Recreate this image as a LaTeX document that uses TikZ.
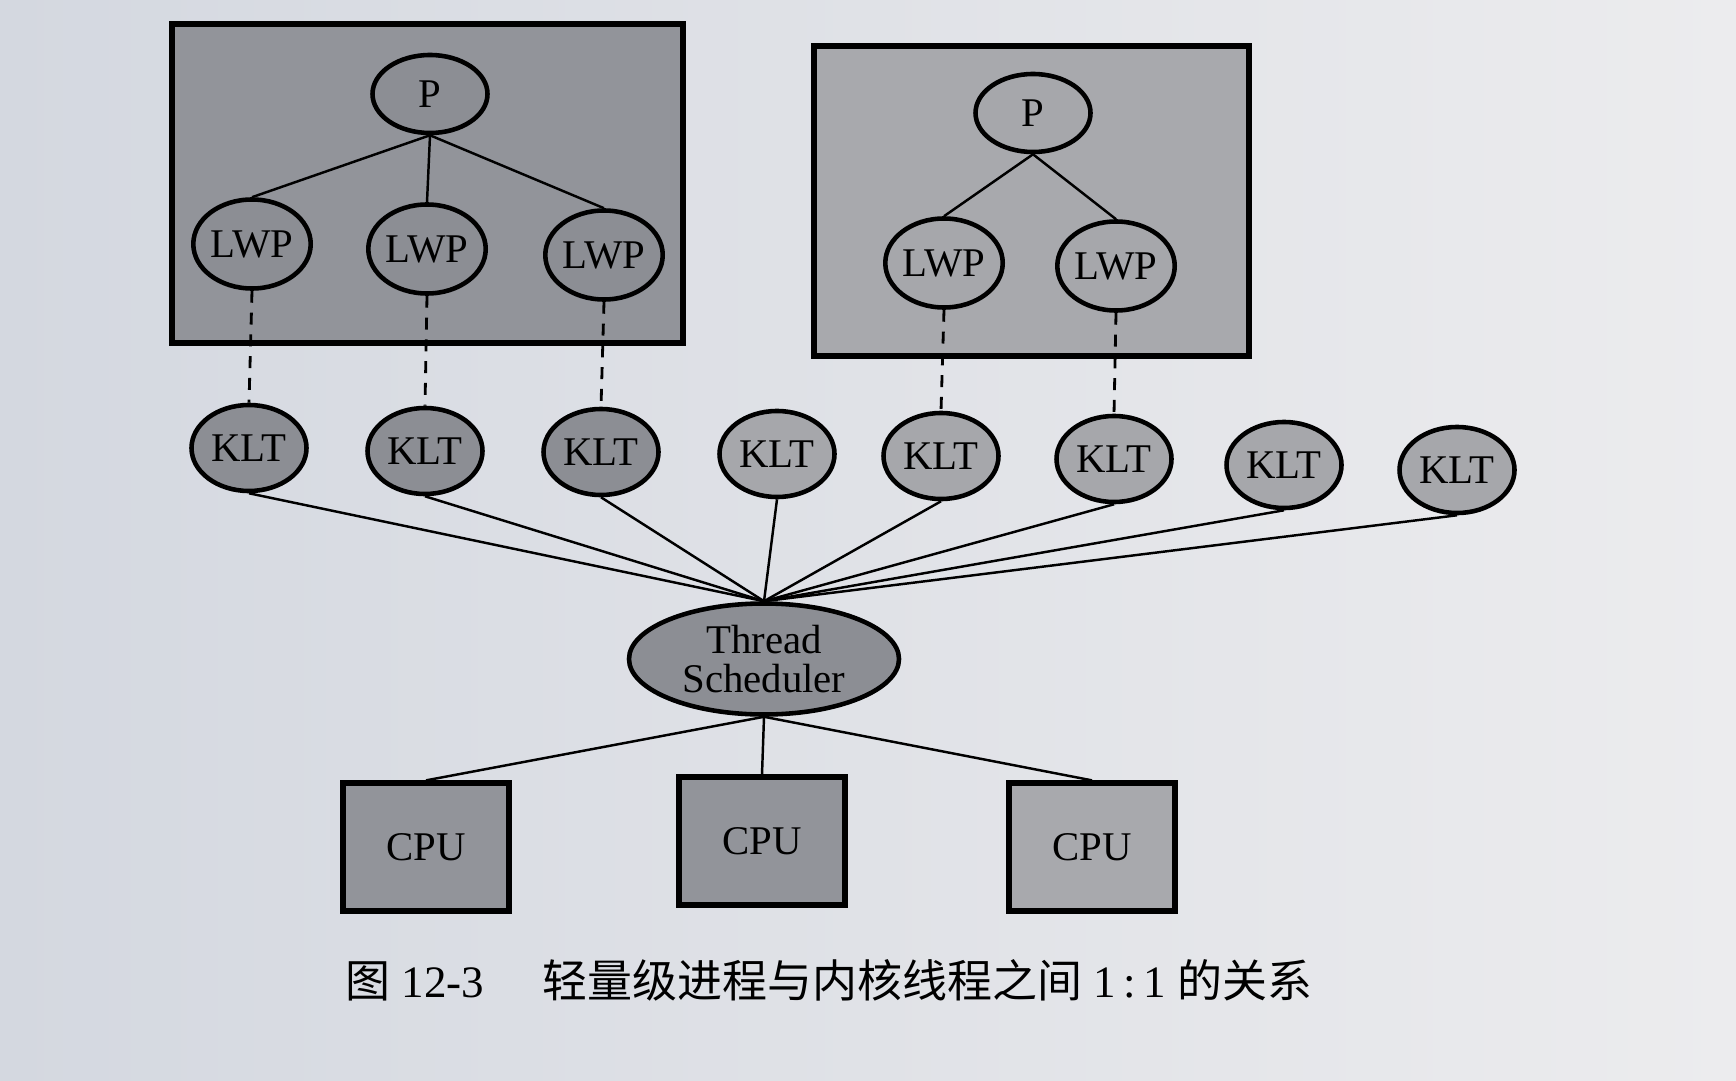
\documentclass[tikz,border=0pt]{standalone}
\usepackage{fontspec}
\setmainfont{Liberation Serif}
\newfontfamily\cjk{Noto Sans CJK SC}
\usetikzlibrary{shapes.geometric}
\definecolor{papier}{RGB}{212,216,224}
\definecolor{papierclair}{RGB}{236,236,238}
\definecolor{boitesombre}{RGB}{146,148,154}
\definecolor{boiteclaire}{RGB}{168,169,173}
\definecolor{bullesombre}{RGB}{140,142,148}
\definecolor{bulleclaire}{RGB}{166,167,171}
\begin{document}
\begin{tikzpicture}[
    font=\fontsize{11.6}{11.2}\selectfont,
    bulle/.style={ellipse, draw=black, line width=1.3pt, inner sep=0pt,
        minimum width=1.15cm, minimum height=0.86cm},
    processus/.style={bulle, minimum height=0.78cm},
    ordonnanceur/.style={bulle, minimum width=2.7cm, minimum height=1.11cm, align=center},
    cpu/.style={draw=black, line width=1.5pt, inner sep=0pt,
        minimum width=1.66cm, minimum height=1.28cm},
    cadre/.style={draw=black, line width=1.6pt},
    lien/.style={line width=0.7pt},
    pointille/.style={line width=0.8pt, dash pattern=on 3.4pt off 2.8pt}
]
        % fond de la page
        \shade[left color=papier, right color=papierclair] (0,0) rectangle (17.36,-10.80);
        \useasboundingbox (0,0) rectangle (17.36,-10.80);

        % les deux processus
        \draw[cadre, fill=boitesombre] (1.72,-0.24) rectangle (6.83,-3.43);
        \draw[cadre, fill=boiteclaire] (8.14,-0.46) rectangle (12.49,-3.56);

        \node[processus, fill=bullesombre] (p1) at (4.30,-0.94) {P}; % processus de gauche
        \node[bulle, fill=bullesombre, minimum height=0.89cm] (lwp1) at (2.52,-2.44) {LWP};
        \node[bulle, fill=bullesombre, minimum height=0.89cm] (lwp2) at (4.27,-2.49) {LWP};
        \node[bulle, fill=bullesombre, minimum height=0.89cm] (lwp3) at (6.04,-2.55) {LWP};

        \node[processus, fill=bulleclaire] (p2) at (10.33,-1.13) {P}; % processus de droite
        \node[bulle, fill=bulleclaire, minimum height=0.89cm] (lwp4) at (9.44,-2.63) {LWP};
        \node[bulle, fill=bulleclaire, minimum height=0.89cm] (lwp5) at (11.16,-2.66) {LWP};

        % threads noyau
        \node[bulle, fill=bullesombre] (klt1) at (2.49,-4.48) {KLT};
        \node[bulle, fill=bullesombre] (klt2) at (4.25,-4.51) {KLT};
        \node[bulle, fill=bullesombre] (klt3) at (6.01,-4.52) {KLT};
        \node[bulle, fill=bulleclaire] (klt4) at (7.77,-4.54) {KLT};
        \node[bulle, fill=bulleclaire] (klt5) at (9.41,-4.56) {KLT};
        \node[bulle, fill=bulleclaire] (klt6) at (11.14,-4.59) {KLT};
        \node[bulle, fill=bulleclaire] (klt7) at (12.84,-4.65) {KLT};
        \node[bulle, fill=bulleclaire] (klt8) at (14.57,-4.70) {KLT};

        \node[ordonnanceur, fill=bullesombre] (ts) at (7.64,-6.59) {Thread\\Scheduler};

        % processeurs
        \node[cpu, fill=boitesombre] (cpu1) at (4.26,-8.47) {CPU};
        \node[cpu, fill=boitesombre] (cpu2) at (7.62,-8.41) {CPU};
        \node[cpu, fill=boiteclaire] (cpu3) at (10.92,-8.47) {CPU};

        % liens
        \draw[lien] (p1.south) -- (lwp1.north);
        \draw[lien] (p1.south) -- (lwp2.north);
        \draw[lien] (p1.south) -- (lwp3.north);
        \draw[lien] (p2.south) -- (lwp4.north);
        \draw[lien] (p2.south) -- (lwp5.north);

        \draw[pointille] (lwp1.south) -- (klt1.north);
        \draw[pointille] (lwp2.south) -- (klt2.north);
        \draw[pointille] (lwp3.south) -- (klt3.north);
        \draw[pointille] (lwp4.south) -- (klt5.north);
        \draw[pointille] (lwp5.south) -- (klt6.north);

        \draw[lien] (klt1.south) -- (ts.north);
        \draw[lien] (klt2.south) -- (ts.north);
        \draw[lien] (klt3.south) -- (ts.north);
        \draw[lien] (klt4.south) -- (ts.north);
        \draw[lien] (klt5.south) -- (ts.north);
        \draw[lien] (klt6.south) -- (ts.north);
        \draw[lien] (klt7.south) -- (ts.north);
        \draw[lien] (klt8.south) -- (ts.north);

        \draw[lien] (ts.south) -- (cpu1.north);
        \draw[lien] (ts.south) -- (cpu2.north);
        \draw[lien] (ts.south) -- (cpu3.north);

        % legende
        \node[anchor=west, font=\fontsize{12.8}{14}\selectfont] (legende) at (3.33,-9.80)
            {{\cjk 图} 12-3\hspace{1.3em}{\cjk 轻量级进程与内核线程之间} 1\,:\,1 {\cjk 的关系}};
    \end{tikzpicture}
\end{document}
